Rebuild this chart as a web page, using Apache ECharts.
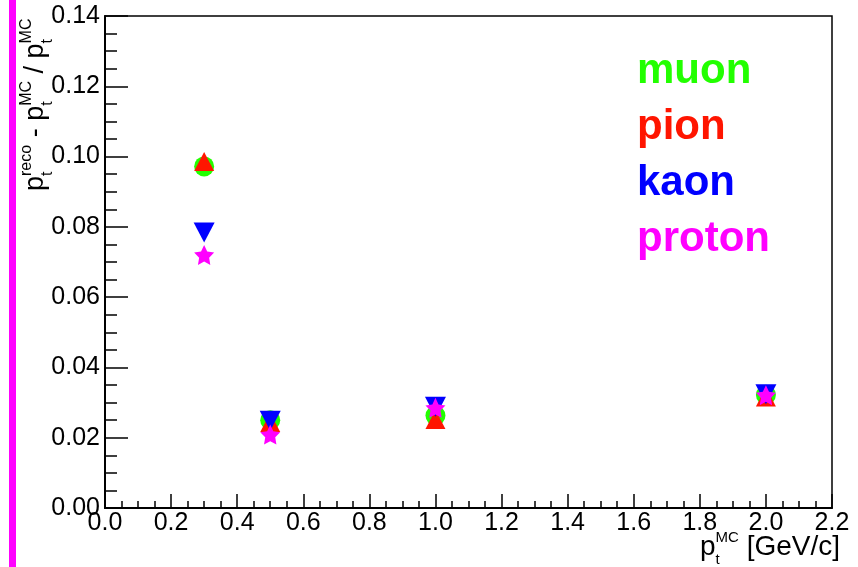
<!DOCTYPE html>
<html>
<head>
<meta charset="utf-8">
<script src="https://cdn.jsdelivr.net/npm/echarts@6/dist/echarts.min.js"></script>
<style>
html, body { margin: 0; padding: 0; background: #fff; }
#chart { width: 858px; height: 567px; }
</style>
</head>
<body>
<div id="chart"></div>
<script>
// pt^MC points (GeV/c)
var ptValues = [0.3, 0.5, 1.0, 2.0];
// (pt reco - pt MC) / pt MC for each particle
var muonRes = [0.0972, 0.0250, 0.0263, 0.0322];
var pionRes = [0.0986, 0.0243, 0.0252, 0.0316];
var kaonRes = [0.0784, 0.0248, 0.0288, 0.0324];
var protonRes = [0.0720, 0.0209, 0.0285, 0.0321];

var particleNames = ['muon', 'pion', 'kaon', 'proton'];
var particleColors = ['#22ff00', '#ff1500', '#0000ff', '#ff00ff'];

var FONT = '"Liberation Sans", Arial, Helvetica, sans-serif';
var starPath = 'path://M0,-10L2.94,-4.05L9.51,-3.09L4.76,1.55L5.88,8.09L0,5L-5.88,8.09L-4.76,1.55L-9.51,-3.09L-2.94,-4.05Z';

function pairs(ys) {
    var out = [];
    for (var i = 0; i < ptValues.length; i++) {
        out.push([ptValues[i], ys[i]]);
    }
    return out;
}

// measure text to lay out sub/superscripts like ROOT's latex
var measureCtx = document.createElement('canvas').getContext('2d');
function textWidth(str, size) {
    measureCtx.font = size + 'px ' + FONT;
    return measureCtx.measureText(str).width;
}
function latexTitle(parts, F, S) {
    var kids = [], x = 0;
    function txt(s, px, py, size) {
        return {
            type: 'text', x: px, y: py,
            style: { text: s, fontSize: size, fontFamily: FONT, fill: '#000', align: 'left', verticalAlign: 'middle' }
        };
    }
    parts.forEach(function (p) {
        kids.push(txt(p.t, x, 0, F));
        x += textWidth(p.t, F);
        var w = 0;
        if (p.sup) {
            kids.push(txt(p.sup, x, -0.1535 * F - 0.3465 * S, S));
            w = textWidth(p.sup, S);
        }
        if (p.sub) {
            kids.push(txt(p.sub, x, 0.6465 * F - 0.3465 * S, S));
            w = Math.max(w, textWidth(p.sub, S));
        }
        x += w;
    });
    return { kids: kids, width: x };
}

var yTitle = latexTitle([
    { t: 'p', sub: 't', sup: 'reco' },
    { t: ' - ' },
    { t: 'p', sub: 't', sup: 'MC' },
    { t: ' / ' },
    { t: 'p', sub: 't', sup: 'MC' }
], 27, 16);

var xTitle = latexTitle([
    { t: 'p', sub: 't', sup: 'MC' },
    { t: ' [GeV/c]' }
], 28, 15);

var chart = echarts.init(document.getElementById('chart'));

var option = {
    animation: false,
    grid: {
        left: 105, right: 26, top: 16, bottom: 59,
        show: true, borderColor: '#000', borderWidth: 1.5, backgroundColor: 'transparent'
    },
    legend: {
        orient: 'vertical',
        left: 632, top: 50,
        padding: 0,
        itemGap: 14,
        itemWidth: 0, itemHeight: 0,
        icon: 'rect',
        selectedMode: false,
        textStyle: { fontSize: 42, fontWeight: 'bold', fontFamily: FONT },
        data: particleNames.map(function (n, i) {
            return { name: n, textStyle: { color: particleColors[i] } };
        })
    },
    xAxis: {
        type: 'value',
        min: 0, max: 2.2, interval: 0.2,
        axisLine: { show: true, onZero: false, lineStyle: { color: '#000', width: 2 } },
        axisTick: { show: true, inside: true, length: 14, lineStyle: { color: '#000', width: 1.5 } },
        minorTick: { show: true, splitNumber: 4, length: 7, lineStyle: { color: '#000', width: 1.5 } },
        axisLabel: {
            margin: 3, fontSize: 25, fontFamily: FONT, color: '#000',
            formatter: function (v) { return v.toFixed(1); }
        },
        splitLine: { show: false }
    },
    yAxis: {
        type: 'value',
        min: 0, max: 0.14, interval: 0.02,
        axisLine: { show: true, onZero: false, lineStyle: { color: '#000', width: 2 } },
        axisTick: { show: true, inside: true, length: 23, lineStyle: { color: '#000', width: 1.5 } },
        minorTick: { show: true, splitNumber: 4, length: 12, lineStyle: { color: '#000', width: 1.5 } },
        axisLabel: {
            margin: 5, fontSize: 25, fontFamily: FONT, color: '#000',
            formatter: function (v) { return v.toFixed(2); }
        },
        splitLine: { show: false }
    },
    series: [
        { name: 'muon', type: 'scatter', symbol: 'circle', symbolSize: 20,
          itemStyle: { color: particleColors[0], opacity: 1 }, data: pairs(muonRes) },
        { name: 'pion', type: 'scatter', symbol: 'triangle', symbolSize: [20, 19],
          itemStyle: { color: particleColors[1], opacity: 1 }, data: pairs(pionRes) },
        { name: 'kaon', type: 'scatter', symbol: 'triangle', symbolRotate: 180, symbolSize: [21, 20],
          itemStyle: { color: particleColors[2], opacity: 1 }, data: pairs(kaonRes) },
        { name: 'proton', type: 'scatter', symbol: starPath, symbolSize: 20,
          itemStyle: { color: particleColors[3], opacity: 1 }, data: pairs(protonRes) }
    ],
    graphic: [
        // magenta pad highlight on the left edge
        { type: 'rect', left: 9, top: 0, shape: { x: 0, y: 0, width: 7, height: 567 }, style: { fill: '#ff00ff' } },
        { type: 'group', x: 36, y: 191, rotation: Math.PI / 2, children: yTitle.kids },
        { type: 'group', x: 840 - xTitle.width, y: 547, children: xTitle.kids }
    ]
};

chart.setOption(option);
</script>
</body>
</html>
